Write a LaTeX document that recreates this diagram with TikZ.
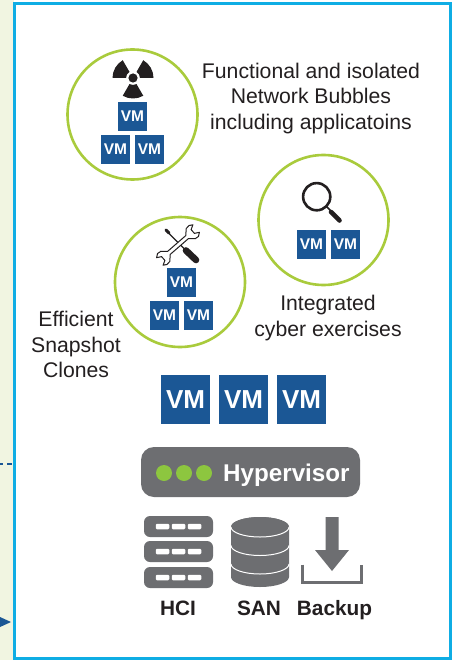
\documentclass[tikz,border=0pt]{standalone}
\usepackage{fontspec}
\usetikzlibrary{calc}
\setmainfont{Liberation Sans}
\definecolor{vmblue}{HTML}{1B5795}
\definecolor{ringgreen}{HTML}{A9CB3C}
\definecolor{dotgreen}{HTML}{8DC63F}
\definecolor{hwgray}{HTML}{6D6E71}
\definecolor{ink}{HTML}{231F20}
\definecolor{frameblue}{HTML}{0FADE4}
\definecolor{cream}{HTML}{F1F5E1}
\tikzset{
  vmsmall/.style={fill=vmblue,text=white,inner sep=0pt,minimum size=29pt,font=\fontsize{15.5}{16}\selectfont\bfseries},
  vmlarge/.style={fill=vmblue,text=white,inner sep=0pt,minimum size=49pt,font=\fontsize{26}{28}\selectfont\bfseries},
  ring/.style={circle,draw=ringgreen,line width=2.6pt,minimum size=130pt,inner sep=0pt},
  caption/.style={text=ink,align=center,inner sep=0pt,font=\fontsize{21.2}{25.5}\selectfont},
  hwlabel/.style={text=ink,inner sep=0pt,anchor=base,font=\fontsize{20.8}{22}\selectfont\bfseries},
  dot/.style={circle,fill=dotgreen,minimum size=16pt,inner sep=0pt},
  rack/.style={rounded corners=6pt,fill=hwgray,minimum width=69pt,minimum height=21pt,inner sep=0pt},
  slot/.style={fill=white,rounded corners=1.2pt,minimum width=13.5pt,minimum height=5.5pt,inner sep=0pt},
}
\begin{document}
\begin{tikzpicture}[x=1pt,y=-1pt]
\useasboundingbox (0,0) rectangle (454,660);
\fill[cream] (0,0) rectangle (14,660);
\fill[white] (14,0) rectangle (454,660);
\node[draw=frameblue,line width=3pt,fill=white,minimum width=436pt,minimum height=654pt,inner sep=0pt] (frame) at (232.5,331) {};
% connectors
\coordinate (dashstart) at (0,464);
\coordinate (arrowstart) at (0,622);
\draw[vmblue,line width=2pt,dash pattern=on 3pt off 4pt on 5pt off 9pt] (dashstart) -- (frame.west |- dashstart);
\fill[vmblue] (arrowstart) ++(0,-5) -- (11,622) -- (0,627) -- cycle;
% rings
\node[ring] (bubbles) at (132.5,114.5) {};
\node[ring] (cyber) at (323.5,220) {};
\node[ring] (clones) at (180,282) {};
% radiation symbol
\fill[ink] (133,78) circle (4.6);
\foreach \a in {60,180,300}{
  \fill[ink] ($(133,78)+(\a:7)$) -- ($(133,78)+(\a:20.5)$) arc[start angle=\a,delta angle=60,radius=20.5] -- ($(133,78)+(\a+60:7)$) arc[start angle=\a+60,delta angle=-60,radius=7] -- cycle;
}
% magnifier
\draw[ink,line width=2.6pt] (316.7,196.7) circle (13.6);
\draw[ink,line width=1.6pt] (326,206) -- (331,211);
\draw[ink,line width=4.6pt,line cap=round] (331,212) -- (339.5,220.5);
% tools
\draw[ink,line width=1.4pt] (166.5,231) -- (184,248.5);
\draw[ink,line width=3pt,line cap=round] (166,230) -- (169,233);
\draw[ink,line width=6.6pt,line cap=round] (186,250.5) -- (196,260);
\begin{scope}[shift={(178,245)},rotate=41]
  \draw[ink,line width=1pt,fill=white,line join=round]
    (-12,-2) -- (12,-2) -- (15,-5) -- (17,-7) -- (21,-7.5) -- (24.5,-5.5) -- (20,-3) -- (20,2) -- (24.5,4.5) -- (21,7) -- (17,6.5) -- (14.5,4) -- (12,2)
    -- (-12,2) -- (-15,5) -- (-17,7) -- (-21,7.5) -- (-24.5,5.5) -- (-20,3) -- (-20,-2) -- (-24.5,-4.5) -- (-21,-7) -- (-17,-6.5) -- (-14.5,-4) -- cycle;
\end{scope}
% small VMs
\node[vmsmall] (vma) at (132.5,116.5) {VM};
\node[vmsmall] (vmb) at (115.5,149.5) {VM};
\node[vmsmall] (vmc) at (149.5,149.5) {VM};
\node[vmsmall] (vmd) at (311.5,244.5) {VM};
\node[vmsmall] (vme) at (345.5,244.5) {VM};
\node[vmsmall] (vmf) at (181.5,282.5) {VM};
\node[vmsmall] (vmg) at (164.5,315.5) {VM};
\node[vmsmall] (vmh) at (198.5,315.5) {VM};
% large VMs
\node[vmlarge] (vmi) at (185.5,399.5) {VM};
\node[vmlarge] (vmj) at (243.5,399.5) {VM};
\node[vmlarge] (vmk) at (301.5,399.5) {VM};
% captions
\node[caption] (capa) at (311,98.5) {Functional and isolated\\Network Bubbles\\including applicatoins};
\node[caption] (capb) at (328,318) {Integrated\\cyber exercises};
\node[caption] (capc) at (76,344.5) {Efficient\\Snapshot\\Clones};
% hypervisor
\node[fill=hwgray,rounded corners=13pt,minimum width=219pt,minimum height=50pt,inner sep=0pt] (hyper) at (250.5,472) {};
\node[dot] (da) at (164,473) {};
\node[dot] (db) at (184,473) {};
\node[dot] (dc) at (204,473) {};
\node[text=white,inner sep=0pt,anchor=base west,font=\fontsize{24.2}{25}\selectfont\bfseries] (hypertext) at (223,481.5) {Hypervisor};
% HCI
\foreach \n/\y in {ra/526.5,rb/551.5,rc/577.5}{
  \node[rack] (\n) at (178.5,\y) {};
  \node[slot] at (162.5,\y) {};
  \node[slot] at (178.5,\y) {};
  \node[slot] at (194.5,\y) {};
}
% SAN
\fill[hwgray] (231,527) arc[start angle=180,end angle=360,x radius=29,y radius=10]
  -- (289,577) arc[start angle=0,end angle=180,x radius=29,y radius=10] -- cycle;
\fill[hwgray] (260,527) ellipse[x radius=29,y radius=10];
\foreach \y in {527,545.5,564}{
  \draw[white,line width=1pt] (231,\y) arc[start angle=180,end angle=0,x radius=29,y radius=10];
}
% Backup
\fill[hwgray] (325.5,517) -- (338.5,517) -- (338.5,550) -- (349,550) -- (332,571) -- (315,550) -- (325.5,550) -- cycle;
\draw[hwgray,line width=2.6pt] (302.3,564.5) -- (302.3,582.5) -- (361.5,582.5) -- (361.5,564.5);
% labels
\node[hwlabel] (hci) at (178,615.5) {HCI};
\node[hwlabel] (san) at (259,615.5) {SAN};
\node[hwlabel] (backup) at (334.5,615.5) {Backup};
\end{tikzpicture}
\end{document}
